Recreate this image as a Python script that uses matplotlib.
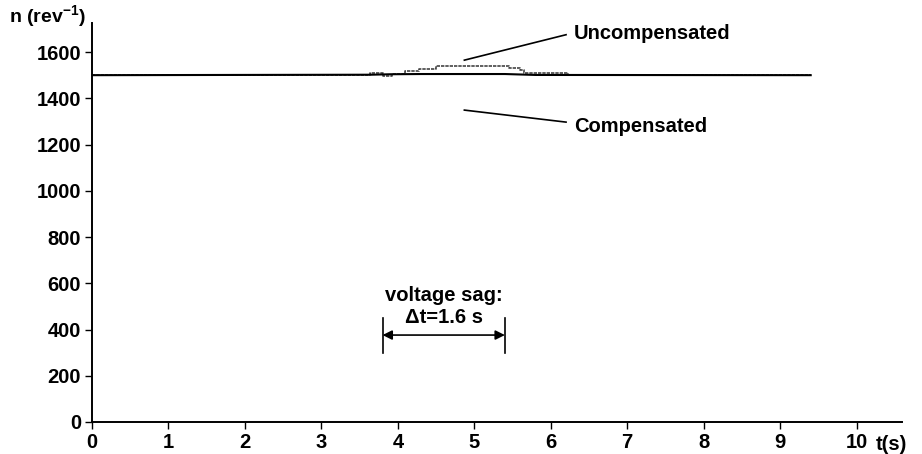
import matplotlib
matplotlib.use('Agg')
from matplotlib import pyplot as plt

# speed traces
t_comp = [0, 3.65, 3.9, 4.3, 5.4, 5.8, 9.4]
n_comp = [1500, 1502, 1504, 1505, 1505, 1501, 1500]

t_unc = [0, 3.63, 3.63, 3.8, 3.8, 3.93, 3.93, 4.1, 4.1, 4.28, 4.28, 4.5, 4.5, 5.46, 5.46, 5.6, 5.6,
         5.65, 5.65, 6.22, 6.22, 9.4]
n_unc = [1500, 1500, 1508, 1508, 1496, 1496, 1506, 1506, 1516, 1516, 1526, 1526, 1540, 1540, 1532,
         1532, 1522, 1522, 1510, 1510, 1500, 1500]

sag_start = 3.8
sag_end = 5.4
x_ticks = list(range(11))
y_ticks = [0, 200, 400, 600, 800, 1000, 1200, 1400, 1600]

FS = 14.5


def main():
    plt.rcParams['font.family'] = ['Liberation Sans', 'DejaVu Sans']
    plt.rcParams['font.weight'] = 'bold'
    plt.rcParams['mathtext.fontset'] = 'custom'
    plt.rcParams['mathtext.bf'] = 'Liberation Sans:bold'
    fig = plt.figure(figsize=(9.22, 4.54), dpi=100)
    ax = fig.add_axes([0.0998, 0.0705, 0.879, 0.879])

    ax.plot(t_unc, n_unc, c='#444444', lw=1.2, ls=(0, (2, 0.6)))
    ax.plot(t_comp, n_comp, c='k', lw=1.5)
    ax.plot([2.0, 4.05], [4, 4], c='#bbbbbb', lw=0.8)

    ax.set_xlim(0, 10.6)
    ax.set_ylim(0, 1726)
    ax.set_xticks(x_ticks)
    ax.set_yticks(y_ticks)
    for s in ['top', 'right']:
        ax.spines[s].set_visible(False)
    for s in ['left', 'bottom']:
        ax.spines[s].set_linewidth(1.4)
    ax.tick_params(labelsize=FS, width=1, length=5, pad=3)
    for lab in ax.get_xticklabels() + ax.get_yticklabels():
        lab.set_fontweight('bold')

    fig.text(0.051, 0.963, r'n (rev$^{\mathbf{-1}}$)', ha='center', va='center',
             fontsize=FS - 0.5, fontweight='bold')
    ax.text(10.45, -55, 't(s)', ha='center', va='top', fontsize=FS,
            fontweight='bold', clip_on=False)

    # leader lines and labels
    ax.plot([4.87, 6.2], [1565, 1675], c='k', lw=1.2)
    ax.text(6.3, 1682, 'Uncompensated', ha='left', va='center',
            fontsize=FS, fontweight='bold')
    ax.plot([4.87, 6.2], [1349, 1297], c='k', lw=1.2)
    ax.text(6.3, 1276, 'Compensated', ha='left', va='center',
            fontsize=FS, fontweight='bold')

    # voltage sag marker
    ax.plot([sag_start, sag_start], [298, 450], c='k', lw=1.2)
    ax.plot([sag_end, sag_end], [298, 450], c='k', lw=1.2)
    ax.annotate('', xy=(sag_start, 376), xytext=(sag_end, 376),
                arrowprops=dict(arrowstyle='<|-|>', color='k', lw=1.2,
                                shrinkA=0, shrinkB=0, mutation_scale=14))
    ax.text((sag_start + sag_end) / 2, 549, 'voltage sag:', ha='center',
            va='center', fontsize=FS, fontweight='bold')
    ax.text((sag_start + sag_end) / 2, 452, '\u0394t=1.6 s', ha='center',
            va='center', fontsize=FS, fontweight='bold')

    fig.savefig('out.png', dpi=100)


if __name__ == "__main__":
    main()
